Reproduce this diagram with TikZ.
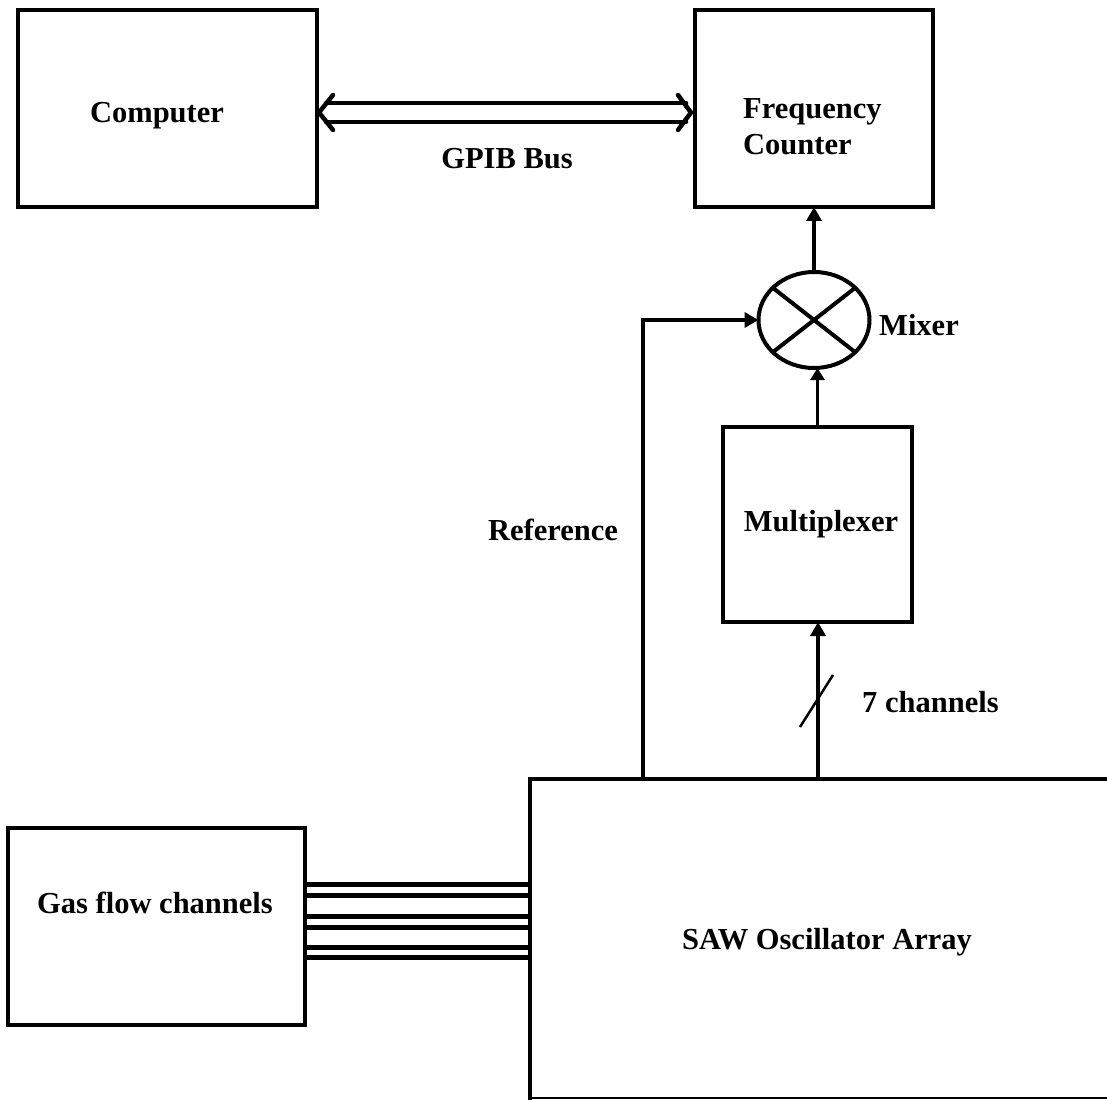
\documentclass[tikz,border=0pt]{standalone}
\usepackage{fontspec}
\setmainfont{Liberation Serif}
\usetikzlibrary{arrows.meta,calc,shapes.geometric}
\begin{document}
\begin{tikzpicture}[x=1pt,y=-1pt,
  box/.style={draw,line width=4pt,rectangle,outer sep=0pt,inner sep=0pt},
  lbl/.style={font=\fontsize{30.5}{36}\selectfont\bfseries,inner sep=0pt},
  conn/.style={line width=4pt,-{Triangle[length=14pt,width=15pt]}},
  thinconn/.style={line width=3pt,-{Triangle[length=12pt,width=14pt]}},
  pipe/.style={line width=5pt},
  bus/.style={line width=4.5pt,line join=round,line cap=round}]
\useasboundingbox (0,0) rectangle (1107,1099);
% boxes
\node[box,minimum width=299pt,minimum height=197pt] (comp) at (167.5,108.5) {};
\node[box,minimum width=238pt,minimum height=197pt] (fc) at (814,108.5) {};
\node[box,minimum width=189pt,minimum height=195pt] (mux) at (817.5,524.5) {};
\node[box,minimum width=297pt,minimum height=197pt] (gas) at (156.5,926.5) {};
\node[draw,ellipse,line width=4pt,outer sep=0pt,inner sep=0pt,minimum width=111pt,minimum height=96pt] (mix) at (814,320) {};
% SAW box (open to the page edge)
\coordinate (sawTL) at (530,779);
\coordinate (sawL) at (530,926.5);
\coordinate (refout) at (643,779);
\coordinate (muxin) at (818,779);
\draw[line width=4pt] (1109,779) -- (sawTL) -- (530,1101);
\draw[line width=2pt] (530,1098) -- (1109,1098);
% labels
\node[lbl] (tcomp) at (157,116) {Computer};
\node[lbl,anchor=west,align=left] (tfc) at (743,127) {Frequency\\Counter};
\node[lbl] (tgpib) at (507,159) {GPIB Bus};
\node[lbl,anchor=west] (tmix) at (879,325) {Mixer};
\node[lbl] (tref) at (553,530) {Reference};
\node[lbl] (tmux) at (821,524) {Multiplexer};
\node[lbl,anchor=west] (tch) at (862,702) {7 channels};
\node[lbl] (tgas) at (155,903) {Gas flow channels};
\node[lbl] (tsaw) at (827,942) {SAW Oscillator Array};
% mixer cross
\draw[line width=4pt] (mix.38) -- (mix.218);
\draw[line width=4pt] (mix.142) -- (mix.322);
% GPIB bus double arrow
\draw[bus] ($(comp.east)+(9,-5.5)$) -- ($(fc.west)+(-9,-5.5)$);
\draw[bus] ($(comp.east)+(9,13.5)$) -- ($(fc.west)+(-9,13.5)$);
\draw[bus] ($(comp.east)+(16,-13.5)$) -- ($(comp.east)+(2,4)$) -- ($(comp.east)+(16,21.5)$);
\draw[bus] ($(fc.west)+(-17,-13.5)$) -- ($(fc.west)+(-4,4)$) -- ($(fc.west)+(-17,21.5)$);
% signal connectors
\draw[conn] (mix.north) -- (fc.south -| mix.north);
\draw[conn] (refout) |- (mix.west);
\draw[thinconn] (mux.north) -- (mix.south -| mux.north);
\draw[conn] (muxin) -- (mux.south -| muxin);
\draw[line width=2.5pt] (800,727) -- (833,675);
% gas flow pipes
\foreach \dy in {-42.5,-31.5,-10.5,0.5,20.5,30.5}
  \draw[pipe] ($(gas.east)+(0,\dy)$) -- ($(sawL)+(0,\dy)$);
\end{tikzpicture}
\end{document}
